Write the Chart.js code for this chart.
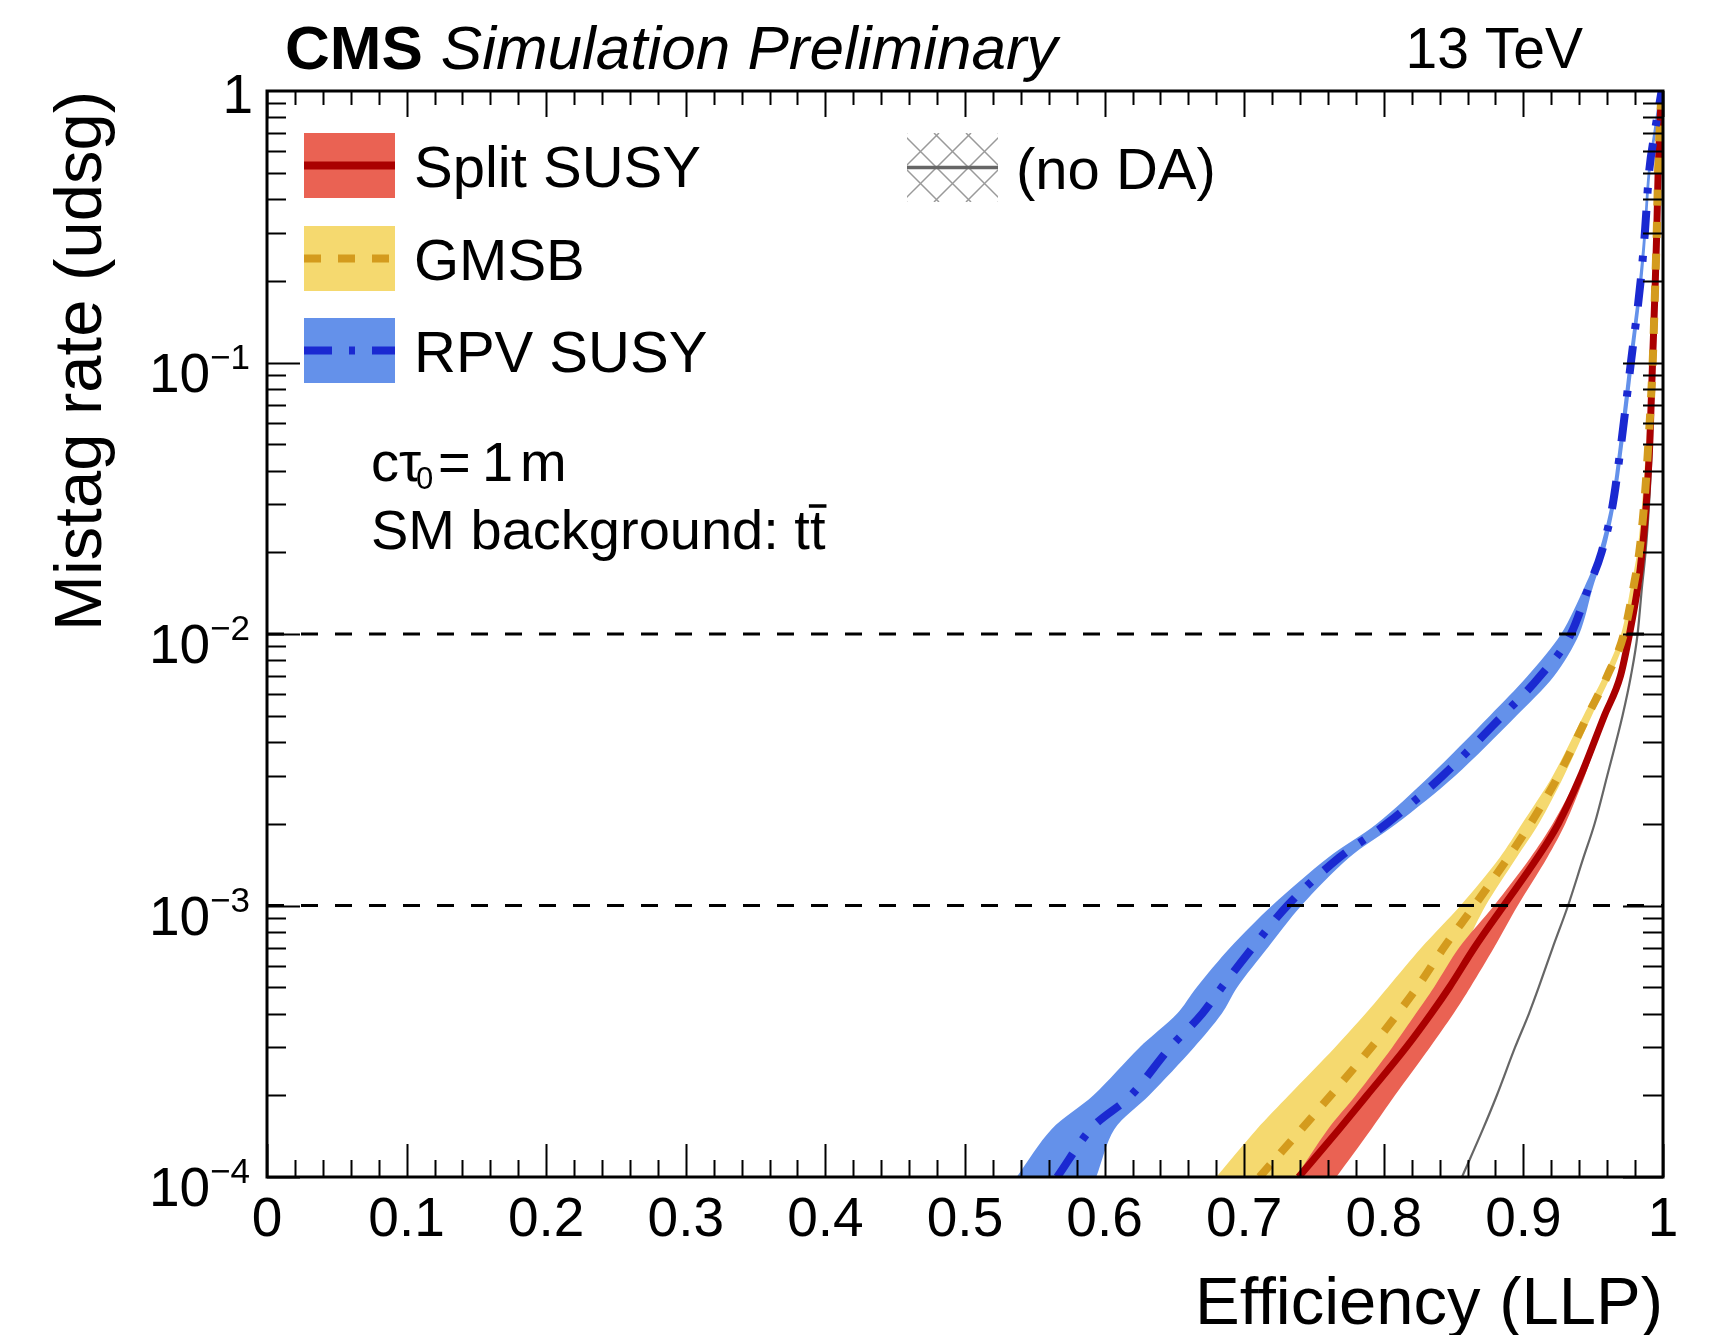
<!DOCTYPE html>
<html>
<head>
<meta charset="utf-8">
<title>Mistag rate vs efficiency</title>
<script src="https://cdn.jsdelivr.net/npm/chart.js@4.4.1/dist/chart.umd.min.js"></script>
<style>
  html, body { margin: 0; padding: 0; background: #fff; }
  #wrap { width: 1711px; height: 1335px; }
</style>
</head>
<body>
<div id="wrap"><canvas id="roc" width="1711" height="1335"></canvas></div>
<script>
// mistag rate (udsg) grid shared by every curve
const mistagGrid = [1e-4, 1.5e-4, 2e-4, 3e-4, 4e-4, 5e-4, 7e-4, 1e-3, 1.5e-3, 2e-3, 3e-3, 5e-3,
  7e-3, 1e-2, 1.5e-2, 2e-2, 3e-2, 5e-2, 0.1, 0.2, 0.3, 0.5, 0.7, 1];

// LLP efficiency at each mistag rate: central value and band edges
const effSplit     = [0.739, 0.768, 0.788, 0.816, 0.834, 0.847, 0.865, 0.886, 0.910, 0.925, 0.941, 0.958,
  0.9695, 0.976, 0.982, 0.985, 0.988, 0.9905, 0.9925, 0.9945, 0.9955, 0.9965, 0.9975, 0.999];
const effSplitLow  = [0.737, 0.760, 0.780, 0.806, 0.823, 0.836, 0.854, 0.879, 0.905, 0.921, 0.939, 0.9565,
  0.968, 0.9748, 0.9808, 0.9838, 0.9868, 0.9893, 0.9913, 0.9935, 0.9945, 0.9955, 0.9965, 0.998];
const effSplitHigh = [0.766, 0.791, 0.808, 0.833, 0.850, 0.862, 0.879, 0.896, 0.917, 0.930, 0.944, 0.9595,
  0.971, 0.9772, 0.9832, 0.9862, 0.9892, 0.9917, 0.9937, 0.9955, 0.9965, 0.9975, 0.9985, 1.0];

const effGmsb      = [0.711, 0.741, 0.762, 0.791, 0.810, 0.824, 0.843, 0.865, 0.889, 0.905, 0.925, 0.946,
  0.960, 0.972, 0.979, 0.983, 0.9865, 0.9895, 0.9926, 0.9945, 0.9955, 0.9965, 0.9975, 0.999];
const effGmsbLow   = [0.680, 0.709, 0.732, 0.765, 0.787, 0.803, 0.827, 0.855, 0.883, 0.899, 0.921, 0.943,
  0.9575, 0.970, 0.977, 0.9815, 0.985, 0.988, 0.9915, 0.9935, 0.9945, 0.9955, 0.9965, 0.998];
const effGmsbHigh  = [0.742, 0.772, 0.792, 0.817, 0.833, 0.845, 0.858, 0.873, 0.895, 0.911, 0.929, 0.949,
  0.9625, 0.974, 0.981, 0.9845, 0.988, 0.991, 0.9937, 0.9955, 0.9965, 0.9975, 0.9985, 1.0];

const effRpv       = [0.566, 0.590, 0.619, 0.647, 0.670, 0.684, 0.706, 0.731, 0.768, 0.802, 0.842, 0.885,
  0.912, 0.934, 0.947, 0.956, 0.964, 0.970, 0.977, 0.984, 0.987, 0.990, 0.994, 0.999];
const effRpvLow    = [0.537, 0.562, 0.592, 0.625, 0.652, 0.666, 0.690, 0.720, 0.760, 0.795, 0.833, 0.876,
  0.903, 0.927, 0.944, 0.954, 0.9625, 0.9685, 0.9755, 0.9828, 0.986, 0.989, 0.993, 0.998];
const effRpvHigh   = [0.594, 0.607, 0.632, 0.664, 0.684, 0.695, 0.717, 0.741, 0.775, 0.809, 0.851, 0.895,
  0.922, 0.940, 0.950, 0.958, 0.9655, 0.9715, 0.9785, 0.9852, 0.988, 0.991, 0.995, 1.0];

// tagger without domain adaptation (Split SUSY)
const effNoDA      = [0.856, 0.871, 0.881, 0.894, 0.904, 0.911, 0.921, 0.932, 0.943, 0.951, 0.960, 0.971,
  0.977, 0.9818, 0.985, 0.9875, 0.990, 0.992, 0.9935, 0.995, 0.996, 0.997, 0.998, 0.999];

// horizontal reference working points
const refLevels = [1e-2, 1e-3];

// axis ticks
const xTickValues = [0, 0.1, 0.2, 0.3, 0.4, 0.5, 0.6, 0.7, 0.8, 0.9, 1];
const xTickLabels = ['0', '0.1', '0.2', '0.3', '0.4', '0.5', '0.6', '0.7', '0.8', '0.9', '1'];
const yTickValues = [1e-4, 1e-3, 1e-2, 1e-1, 1];
const yTickExponents = ['\u22124', '\u22123', '\u22122', '\u22121', ''];

const seriesLabels = ['Split SUSY', 'GMSB', 'RPV SUSY', '(no DA)'];

const FONT = '"Liberation Sans", Arial, Helvetica, sans-serif';
const colors = {
  splitBand: '#ea6253', splitLine: '#aa0000',
  gmsbBand: '#f5d96f', gmsbLine: '#d49b1d',
  rpvBand: '#6491ea', rpvLine: '#1a29d1',
  noDA: '#666666'
};

const curve = (eff) => eff.map((x, i) => ({ x, y: mistagGrid[i] }));
// closed outline: up along the low edge, back down along the high edge
const band = (lo, hi) => curve(lo).concat(curve(hi).reverse());

const lineSet = (label, eff, color, width, dash, order) => ({
  label, data: curve(eff), showLine: true, fill: false,
  borderColor: color, borderWidth: width, borderDash: dash,
  cubicInterpolationMode: 'monotone',
  pointRadius: 0, order
});
const bandSet = (label, lo, hi, color, order) => ({
  label, data: band(lo, hi), showLine: true, fill: 'shape', tension: 0.3,
  backgroundColor: color, borderColor: 'rgba(0,0,0,0)', borderWidth: 0,
  pointRadius: 0, order
});

const refSets = refLevels.map((lvl) => ({
  label: 'ref', data: [{ x: 0, y: lvl }, { x: 1, y: lvl }], showLine: true, fill: false,
  borderColor: '#000', borderWidth: 3, borderDash: [17, 17], pointRadius: 0, order: 0
}));

// ROOT-style frame, inward ticks, labels, legend and captions
const cmsDecor = {
  id: 'cmsDecor',
  afterDraw(chart) {
    const { ctx, chartArea: a, scales: { x, y } } = chart;
    ctx.save();

    ctx.strokeStyle = '#000';
    ctx.lineWidth = 2;
    ctx.beginPath();
    for (let i = 0; i <= 50; i++) {
      const px = Math.round(x.getPixelForValue(i / 50)) + 0.5;
      const major = i % 5 === 0;
      ctx.moveTo(px, a.bottom); ctx.lineTo(px, a.bottom - (major ? 33 : 17));
      ctx.moveTo(px, a.top); ctx.lineTo(px, a.top + (major ? 26 : 14));
    }
    for (let d = -4; d < 0; d++) {
      for (let k = 1; k <= 9; k++) {
        const py = Math.round(y.getPixelForValue(k * Math.pow(10, d))) + 0.5;
        const major = k === 1;
        ctx.moveTo(a.left, py); ctx.lineTo(a.left + (major ? 33 : 19), py);
        ctx.moveTo(a.right, py); ctx.lineTo(a.right - (major ? 40 : 20), py);
      }
    }
    ctx.stroke();

    ctx.lineWidth = 3;
    ctx.strokeRect(a.left, a.top, a.right - a.left, a.bottom - a.top);

    ctx.fillStyle = '#000';
    ctx.textBaseline = 'alphabetic';

    // x tick labels
    ctx.font = `55px ${FONT}`;
    ctx.textAlign = 'center';
    xTickValues.forEach((v, i) => {
      ctx.fillText(xTickLabels[i], x.getPixelForValue(v), 1236);
    });

    // y tick labels, 10 with superscript exponent
    ctx.textAlign = 'right';
    yTickValues.forEach((v, i) => {
      const py = y.getPixelForValue(v);
      const exp = yTickExponents[i];
      if (!exp) {
        ctx.font = `55px ${FONT}`;
        ctx.fillText('1', 253, py + 22);
        return;
      }
      ctx.font = `35px ${FONT}`;
      const we = ctx.measureText(exp).width;
      ctx.fillText(exp, 250, py + 6);
      ctx.font = `55px ${FONT}`;
      ctx.fillText('10', 250 - we, py + 29);
    });

    // axis titles
    ctx.font = `67px ${FONT}`;
    ctx.textAlign = 'right';
    ctx.fillText('Efficiency (LLP)', a.right, 1324);
    ctx.save();
    ctx.translate(101, a.top);
    ctx.rotate(-Math.PI / 2);
    ctx.fillText('Mistag rate (udsg)', 0, 0);
    ctx.restore();

    // header
    ctx.textAlign = 'left';
    ctx.font = `bold 62px ${FONT}`;
    ctx.fillText('CMS', 285, 69);
    const wCms = ctx.measureText('CMS').width;
    ctx.font = `italic 62px ${FONT}`;
    ctx.fillText('Simulation Preliminary', 285 + wCms + 18, 69);
    ctx.font = `57px ${FONT}`;
    ctx.textAlign = 'right';
    ctx.fillText('13 TeV', 1583, 68);

    // legend
    const bx = 304, bw = 91, bh = 65;
    const rows = [
      { top: 133, band: colors.splitBand, line: colors.splitLine, dash: [] },
      { top: 226, band: colors.gmsbBand, line: colors.gmsbLine, dash: [17, 17] },
      { top: 318, band: colors.rpvBand, line: colors.rpvLine, dash: [28, 17, 6, 17] }
    ];
    rows.forEach((r, i) => {
      ctx.fillStyle = r.band;
      ctx.fillRect(bx, r.top, bw, bh);
      const cy = r.top + bh / 2;
      ctx.strokeStyle = r.line;
      ctx.lineWidth = 8;
      ctx.setLineDash(r.dash);
      ctx.beginPath(); ctx.moveTo(bx, cy); ctx.lineTo(bx + bw, cy); ctx.stroke();
      ctx.setLineDash([]);
      ctx.fillStyle = '#000';
      ctx.font = `58px ${FONT}`;
      ctx.textAlign = 'left';
      ctx.fillText(seriesLabels[i], 414, cy + 21);
    });

    // hatched entry for the tagger without domain adaptation
    const hx = 907, hy = 133, hw = 91, hh = 69;
    ctx.save();
    ctx.beginPath(); ctx.rect(hx, hy, hw, hh); ctx.clip();
    ctx.strokeStyle = '#9a9a9a';
    ctx.lineWidth = 1.5;
    ctx.beginPath();
    for (let s = -hh; s < hw + hh; s += 32) {
      ctx.moveTo(hx + s, hy); ctx.lineTo(hx + s + hh, hy + hh);
      ctx.moveTo(hx + s + hh, hy); ctx.lineTo(hx + s, hy + hh);
    }
    ctx.stroke();
    ctx.restore();
    ctx.strokeStyle = colors.noDA;
    ctx.lineWidth = 3.5;
    ctx.beginPath(); ctx.moveTo(hx, hy + hh / 2); ctx.lineTo(hx + hw, hy + hh / 2); ctx.stroke();
    ctx.fillStyle = '#000';
    ctx.font = `58px ${FONT}`;
    ctx.fillText(seriesLabels[3], 1016, hy + hh / 2 + 21);

    // sample description
    ctx.font = `56px ${FONT}`;
    ctx.fillText('c\u03c4', 371, 481);
    ctx.font = `31px ${FONT}`;
    ctx.fillText('0', 416, 489);
    ctx.font = `56px ${FONT}`;
    ctx.fillText('=', 438, 481);
    ctx.fillText('1', 482, 481);
    ctx.fillText('m', 520, 481);
    const line2 = 'SM background: tt';
    ctx.fillText(line2, 371, 549);
    const w2 = ctx.measureText(line2).width;
    const wt = ctx.measureText('t').width;
    ctx.lineWidth = 3.5;
    ctx.strokeStyle = '#000';
    ctx.beginPath();
    ctx.moveTo(371 + w2 - wt - 1, 506); ctx.lineTo(371 + w2 + 1, 506);
    ctx.stroke();

    ctx.restore();
  }
};

Chart.defaults.font.family = FONT;

new Chart(document.getElementById('roc'), {
  type: 'scatter',
  data: {
    datasets: [
      ...refSets,
      lineSet(seriesLabels[2], effRpv, colors.rpvLine, 8, [28, 17, 6, 17], 1),
      lineSet(seriesLabels[1], effGmsb, colors.gmsbLine, 8, [16, 16], 2),
      lineSet(seriesLabels[0], effSplit, colors.splitLine, 7, [], 3),
      lineSet(seriesLabels[3], effNoDA, colors.noDA, 2.2, [], 4),
      bandSet(seriesLabels[2] + ' band', effRpvLow, effRpvHigh, colors.rpvBand, 5),
      bandSet(seriesLabels[0] + ' band', effSplitLow, effSplitHigh, colors.splitBand, 6),
      bandSet(seriesLabels[1] + ' band', effGmsbLow, effGmsbHigh, colors.gmsbBand, 7)
    ]
  },
  options: {
    responsive: false,
    devicePixelRatio: 1,
    animation: false,
    layout: { padding: { left: 267, top: 91, right: 48, bottom: 158 } },
    scales: {
      x: { type: 'linear', min: 0, max: 1, display: false },
      y: { type: 'logarithmic', min: 1e-4, max: 1, display: false }
    },
    plugins: {
      legend: { display: false },
      tooltip: { enabled: false }
    },
    elements: { line: { borderCapStyle: 'butt' } }
  },
  plugins: [cmsDecor]
});
</script>
</body>
</html>
